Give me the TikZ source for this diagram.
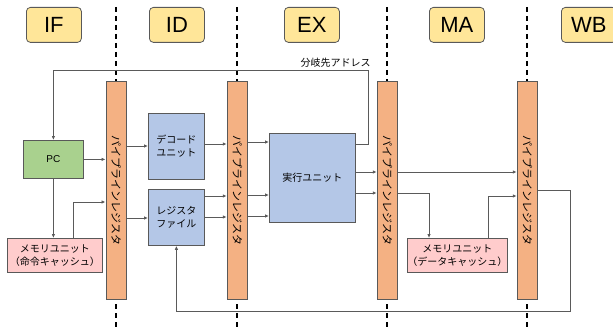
\documentclass[tikz,border=0pt]{standalone}
\usepackage{fontspec}
\setmainfont{Liberation Sans}
\newfontfamily\jp{Noto Sans CJK JP}
\usetikzlibrary{arrows.meta}
\definecolor{stagefill}{HTML}{FFE699}
\definecolor{regfill}{HTML}{F4B183}
\definecolor{unitfill}{HTML}{B4C7E7}
\definecolor{pcfill}{HTML}{A9D18E}
\definecolor{memfill}{HTML}{FFCCCC}
\definecolor{edgecol}{HTML}{595959}
\definecolor{wirecol}{HTML}{5A5A5A}
\begin{document}
\begin{tikzpicture}[x=1pt,y=-1pt,
  box/.style={draw=edgecol, line width=0.8pt, inner sep=0pt, anchor=north west, align=center,
              font=\jp\fontsize{10}{13}\selectfont},
  stage/.style={box, fill=stagefill, rounded corners=4pt, minimum width=55pt, minimum height=35pt,
              font=\fontsize{22}{26}\selectfont},
  preg/.style={box, fill=regfill, minimum width=20.5pt, minimum height=218pt},
  unit/.style={box, fill=unitfill},
  memu/.style={box, fill=memfill},
  wire/.style={draw=wirecol, line width=1pt, -{Latex[length=4pt,width=3.5pt]}},
  sep/.style={black, line width=1.2pt, dash pattern=on 5pt off 4pt},
  vtext/.style={rotate=-90, font=\jp\fontsize{11}{13}\selectfont, inner sep=0pt}
]
\useasboundingbox (0,0) rectangle (613,329);
\clip (0,0) rectangle (613,329);

% stage separators
\coordinate (s1t) at (116,7);  \coordinate (s1b) at (116,329);
\coordinate (s2t) at (237,7);  \coordinate (s2b) at (237,329);
\coordinate (s3t) at (387,7);  \coordinate (s3b) at (387,329);
\coordinate (s4t) at (527,7);  \coordinate (s4b) at (527,329);
\draw[sep] (s1t) -- (s1b);
\draw[sep] (s2t) -- (s2b);
\draw[sep] (s3t) -- (s3b);
\draw[sep] (s4t) -- (s4b);

% stage labels
\node[stage] (IF) at (26,7) {IF};
\node[stage] (ID) at (149,7) {ID};
\node[stage] (EX) at (284,7) {EX};
\node[stage] (MA) at (429,7) {MA};
\node[stage] (WB) at (561,7) {WB};

% pipeline registers
\node[preg] (r1) at (105.5,81) {};
\node[preg] (r2) at (226.75,81) {};
\node[preg] (r3) at (376.75,81) {};
\node[preg] (r4) at (516.75,81) {};
\node[vtext] (t1) at (r1.center) {パイプラインレジスタ};
\node[vtext] (t2) at (r2.center) {パイプラインレジスタ};
\node[vtext] (t3) at (r3.center) {パイプラインレジスタ};
\node[vtext] (t4) at (r4.center) {パイプラインレジスタ};

% units
\node[box, fill=pcfill, minimum width=60pt, minimum height=38pt, font=\fontsize{10}{12}\selectfont] (pc) at (23,140) {PC};
\node[memu, minimum width=95pt, minimum height=34pt] (m1) at (7,238) {メモリユニット\\（命令キャッシュ）};
\node[unit, minimum width=56pt, minimum height=66pt] (dec) at (148,113) {デコード\\ユニット};
\node[unit, minimum width=56pt, minimum height=56pt] (rf) at (148,189) {レジスタ\\ファイル};
\node[unit, minimum width=86pt, minimum height=89pt] (ex) at (269,133) {実行ユニット};
\node[memu, minimum width=100pt, minimum height=34pt] (m2) at (407,238) {メモリユニット\\（データキャッシュ）};

\node[font=\jp\fontsize{10}{12}\selectfont, inner sep=0pt] (br) at (335.5,63) {分岐先アドレス};

% IF stage
\draw[wire] (pc.east) -- (r1.west |- pc.east);
\draw[wire] (pc.south) -- (pc.south |- m1.north);
\draw[wire] (m1.north -| 73,0) |- (r1.west |- 0,202);

% ID stage
\draw[wire] (r1.east |- 0,146) -- (dec.west |- 0,146);
\draw[wire] (r1.east |- 0,218) -- (rf.west |- 0,218);
\draw[wire] (dec.east |- 0,144) -- (r2.west |- 0,144);
\draw[wire] (rf.east |- 0,196) -- (r2.west |- 0,196);
\draw[wire] (rf.east |- 0,217) -- (r2.west |- 0,217);

% EX stage
\draw[wire] (r2.east |- 0,142) -- (ex.west |- 0,142);
\draw[wire] (r2.east |- 0,195) -- (ex.west |- 0,195);
\draw[wire] (r2.east |- 0,216) -- (ex.west |- 0,216);
\draw[wire] (ex.east |- 0,172) -- (r3.west |- 0,172);
\draw[wire] (ex.east |- 0,193) -- (r3.west |- 0,193);
\draw[wire] (ex.east |- 0,144) -| (368,71) -| (pc.north);

% MA stage
\draw[wire] (r3.east |- 0,172) -- (r4.west |- 0,172);
\draw[wire] (r3.east |- 0,193) -| (m2.north -| 429,0);
\draw[wire] (m2.north -| 488,0) |- (r4.west |- 0,196);

% WB
\draw[wire] (r4.east |- 0,190) -| (570,311) -| (rf.south);
\end{tikzpicture}
\end{document}
